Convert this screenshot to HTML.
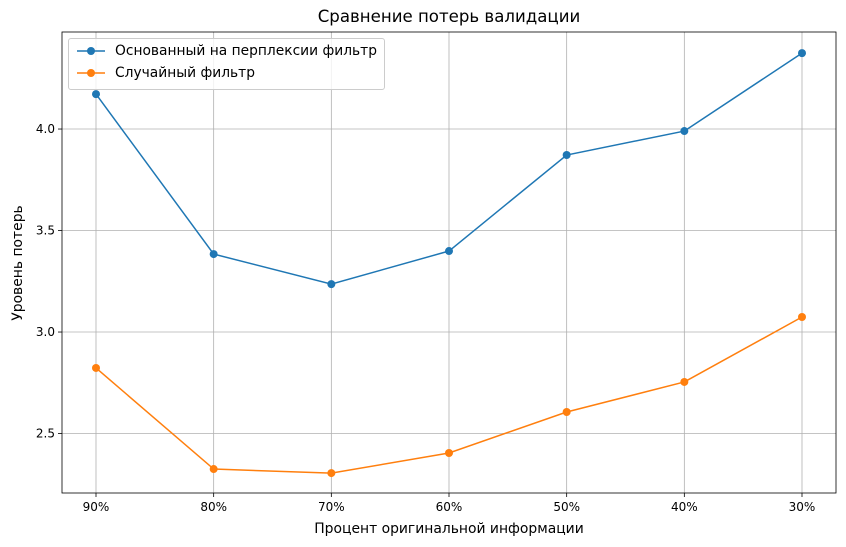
<!DOCTYPE html>
<html><head><meta charset="utf-8">
<style>
body{margin:0;background:#fff;}
#chart{display:block;font-family:"DejaVu Sans","Liberation Sans",sans-serif;}
.lg svg{display:inline-block;vertical-align:middle;}
</style></head>
<body>
<svg id="chart" width="846" height="547"></svg>
<script>
const categories=["90%","80%","70%","60%","50%","40%","30%"];
const perplexityValues=[4.172,3.384,3.236,3.399,3.872,3.99,4.374];
const randomValues=[2.823,2.325,2.305,2.404,2.606,2.754,3.074];
const yTicks=[2.5,3.0,3.5,4.0];
const yTickLabels=["2.5","3.0","3.5","4.0"];

const L=62,R=836,T=32,B=493;
const yMin=2.207,yMax=4.478;
const x0=96,x1=802;
function xs(i){return x0+(x1-x0)*i/(categories.length-1);}
function ys(v){return B-(v-yMin)/(yMax-yMin)*(B-T);}
const NS="http://www.w3.org/2000/svg";
const svg=document.getElementById('chart');
function mk(tag,attrs,parent){const e=document.createElementNS(NS,tag);for(const k in attrs)e.setAttribute(k,attrs[k]);(parent||svg).appendChild(e);return e;}

const grid=mk('g',{});


categories.forEach((c,i)=>{mk('line',{x1:xs(i),x2:xs(i),y1:T,y2:B,stroke:'#b0b0b0','stroke-width':0.8},grid);});
yTicks.forEach(v=>{mk('line',{x1:L,x2:R,y1:ys(v),y2:ys(v),stroke:'#b0b0b0','stroke-width':0.8},grid);});

const xa=mk('g',{});


categories.forEach((c,i)=>{
  mk('line',{x1:xs(i),x2:xs(i),y1:B,y2:B+4,stroke:'#000','stroke-width':0.8},xa);
  const t=mk('text',{x:xs(i),y:B+18,'text-anchor':'middle','font-size':12},xa);t.textContent=c;
  
  
});
const ya=mk('g',{});


yTicks.forEach((v,i)=>{
  mk('line',{x1:L-4,x2:L,y1:ys(v),y2:ys(v),stroke:'#000','stroke-width':0.8},ya);
  const t=mk('text',{x:L-7,y:ys(v)+4,'text-anchor':'end','font-size':12},ya);t.textContent=yTickLabels[i];
  
  
});

function series(vals,color,name){
  const g=mk('g',{});
  
  
  mk('polyline',{points:vals.map((v,i)=>xs(i)+','+ys(v)).join(' '),fill:'none',stroke:color,'stroke-width':1.5},g);
  vals.forEach((v,i)=>{const c=mk('circle',{cx:xs(i),cy:ys(v),r:4,fill:color},g);
    
    });
}
series(perplexityValues,'#1f77b4','perplexity-series');
series(randomValues,'#ff7f0e','random-series');

mk('rect',{x:L,y:T,width:R-L,height:B-T,fill:'none',stroke:'#000','stroke-width':0.8});
</script>
<div style="position:absolute;left:0;top:0;width:846px;height:547px;pointer-events:none;font-family:'DejaVu Sans','Liberation Sans',sans-serif;">
  <div style="position:absolute;left:62px;width:774px;top:7px;text-align:center;font-size:16.6px;">Сравнение потерь валидации</div>
  <div style="position:absolute;left:62px;width:774px;top:521px;text-align:center;font-size:13.9px;">Процент оригинальной информации</div>
  <div style="position:absolute;left:-45px;top:255px;width:126px;text-align:center;font-size:13.9px;transform:rotate(-90deg);">Уровень потерь</div>
  <div class="lg" style="position:absolute;left:68px;top:38px;width:315px;height:50px;border:1px solid #ccc;border-radius:3px;background:rgba(255,255,255,0.8);font-size:13.8px;white-space:nowrap;">
    <div style="position:absolute;left:8px;top:4px;height:16px;line-height:16px;">
      <svg width="30" height="14"><line x1="0" y1="7" x2="28" y2="7" stroke="#1f77b4" stroke-width="1.5"/><circle cx="14" cy="7" r="4" fill="#1f77b4"/></svg><span style="margin-left:8px">Основанный на перплексии фильтр</span></div>
    <div style="position:absolute;left:8px;top:26px;height:16px;line-height:16px;">
      <svg width="30" height="14"><line x1="0" y1="7" x2="28" y2="7" stroke="#ff7f0e" stroke-width="1.5"/><circle cx="14" cy="7" r="4" fill="#ff7f0e"/></svg><span style="margin-left:8px">Случайный фильтр</span></div>
  </div>
</div>
</body></html>
